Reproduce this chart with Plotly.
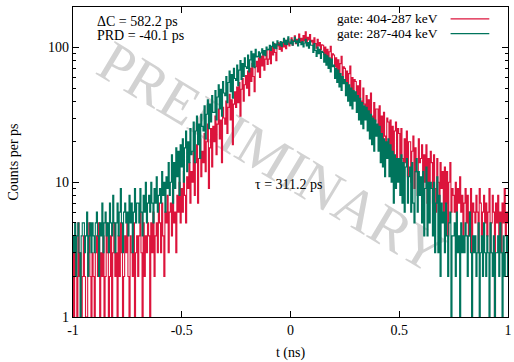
import numpy as np
import plotly.graph_objects as go

# bin centres (ns), 5 ps bins from -1 to 1
t_ns = np.round(np.arange(-1.0, 1.0001, 0.005), 3)

# gate: 404-287 keV  (counts per ps)
gate_404_287 = [
    3, 1, 4, 2, 1, 5, 2, 3, 1, 2,
    4, 2, 1, 1, 3, 5, 2, 1, 3, 2,
    1, 3, 4, 2, 5, 1, 3, 2, 4, 1,
    2, 5, 3, 1, 2, 4, 1, 3, 5, 2,
    3, 1, 4, 2, 5, 3, 1, 2, 4, 3,
    5, 2, 1, 4, 3, 2, 5, 1, 3, 4,
    2, 4, 6, 3, 1, 5, 2, 4, 3, 5,
    4, 1, 5, 3, 6, 2, 4, 5, 3, 7,
    5, 3, 7, 4, 2, 6, 5, 8, 3, 6,
    7, 4, 9, 5, 6, 3, 8, 6, 10, 5,
    9, 6, 12, 8, 5, 11, 9, 14, 7, 12,
    10, 17, 8, 14, 19, 7, 15, 21, 11, 17,
    14, 23, 12, 20, 27, 9, 18, 25, 13, 26,
    20, 31, 16, 27, 35, 21, 29, 14, 36, 30,
    27, 40, 23, 36, 45, 29, 41, 19, 38, 47,
    36, 51, 39, 55, 31, 49, 59, 40, 53, 62,
    50, 67, 44, 70, 56, 76, 61, 47, 72, 79,
    66, 84, 60, 86, 73, 92, 68, 82, 95, 75,
    82, 98, 76, 101, 88, 107, 92, 80, 103, 109,
    97, 107, 94, 110, 101, 113, 98, 106, 116, 103,
    108, 118, 104, 113, 122, 107, 115, 111, 126, 109,
    117, 108, 123, 112, 131, 106, 119, 114, 125, 110,
    113, 104, 118, 107, 99, 115, 103, 109, 96, 105,
    104, 89, 101, 83, 97, 79, 93, 102, 76, 90,
    88, 72, 84, 66, 81, 62, 76, 86, 58, 72,
    70, 55, 67, 50, 64, 73, 47, 60, 44, 58,
    56, 41, 52, 36, 57, 40, 33, 50, 38, 34,
    44, 30, 41, 26, 46, 31, 24, 39, 28, 35,
    35, 23, 37, 20, 31, 18, 33, 22, 16, 30,
    28, 17, 29, 15, 26, 13, 24, 28, 14, 25,
    23, 13, 25, 15, 10, 21, 14, 24, 11, 20,
    20, 10, 17, 22, 9, 18, 12, 8, 21, 14,
    15, 19, 8, 16, 10, 19, 7, 15, 9, 17,
    14, 7, 16, 9, 6, 15, 10, 5, 14, 9,
    12, 6, 13, 7, 12, 4, 10, 14, 6, 9,
    8, 6, 10, 5, 9, 7, 11, 6, 8, 4,
    7, 9, 5, 8, 4, 6, 9, 3, 7, 6,
    5, 8, 6, 3, 9, 7, 4, 6, 8, 5,
    7, 4, 6, 9, 3, 5, 8, 6, 1, 7,
    5, 8, 4, 6, 3, 7, 5, 9, 4, 6,
    5,
]

# gate: 287-404 keV
gate_287_404 = [
    4, 3, 5, 2, 4, 5, 3, 1, 4, 5,
    5, 3, 4, 6, 2, 4, 5, 3, 5, 4,
    3, 5, 6, 4, 2, 5, 4, 7, 3, 5,
    6, 4, 5, 3, 7, 5, 4, 8, 5, 3,
    5, 7, 4, 6, 9, 5, 3, 6, 7, 5,
    6, 4, 8, 5, 7, 3, 6, 9, 5, 7,
    7, 5, 9, 6, 4, 8, 6, 10, 5, 7,
    8, 6, 10, 7, 5, 9, 7, 11, 6, 8,
    9, 7, 12, 8, 10, 6, 11, 9, 14, 8,
    10, 16, 7, 14, 9, 18, 11, 17, 8, 19,
    13, 21, 10, 18, 24, 12, 20, 14, 25, 16,
    17, 28, 14, 24, 31, 19, 27, 15, 32, 26,
    24, 37, 21, 32, 41, 25, 38, 28, 44, 33,
    33, 48, 29, 43, 53, 35, 49, 31, 56, 46,
    44, 61, 39, 55, 67, 47, 63, 42, 70, 59,
    57, 74, 52, 68, 80, 58, 76, 61, 84, 72,
    70, 88, 66, 81, 94, 72, 90, 71, 97, 85,
    86, 93, 84, 91, 98, 88, 95, 87, 101, 96,
    97, 104, 95, 102, 110, 99, 106, 98, 112, 105,
    104, 111, 102, 109, 117, 106, 113, 105, 120, 110,
    107, 114, 104, 111, 119, 108, 112, 103, 116, 109,
    105, 111, 101, 108, 115, 103, 109, 99, 112, 104,
    104, 92, 107, 95, 86, 101, 90, 97, 83, 94,
    92, 78, 89, 74, 87, 70, 84, 66, 82, 72,
    74, 59, 70, 55, 68, 51, 64, 48, 61, 54,
    58, 44, 55, 40, 53, 37, 50, 35, 48, 40,
    47, 33, 44, 29, 42, 27, 39, 25, 37, 29,
    36, 24, 34, 21, 32, 19, 30, 17, 29, 22,
    27, 17, 26, 14, 23, 13, 21, 11, 20, 15,
    21, 11, 19, 10, 17, 7, 16, 9, 15, 10,
    15, 8, 16, 7, 14, 6, 13, 15, 7, 11,
    13, 6, 14, 7, 5, 12, 15, 6, 12, 8,
    11, 5, 12, 4, 9, 13, 4, 10, 5, 10,
    9, 4, 10, 3, 7, 11, 3, 8, 2, 7,
    5, 6, 3, 7, 4, 2, 5, 6, 1, 4,
    4, 5, 2, 6, 3, 4, 1, 5, 3, 4,
    3, 5, 4, 2, 4, 6, 3, 1, 4, 3,
    4, 2, 3, 5, 1, 3, 4, 2, 5, 3,
    2, 4, 3, 1, 5, 3, 2, 4, 1, 3,
    3, 4, 2, 5, 3, 1, 4, 2, 3, 4,
    2,
]

series_names = ["gate: 404-287 keV", "gate: 287-404 keV"]
series_colors = ["#dc143c", "#00745c"]

x_tickvals = [-1, -0.5, 0, 0.5, 1]
x_ticktext = ["-1", "-0.5", "0", "0.5", "1"]
y_tickvals = [1, 10, 100]
y_ticktext = ["1", "10", "100"]

FONT = "Liberation Serif, Times New Roman, serif"

fig = go.Figure()
for ys, name, col in zip([gate_404_287, gate_287_404], series_names, series_colors):
    fig.add_trace(go.Scatter(
        x=t_ns, y=ys, mode="lines", name=name,
        line=dict(color=col, width=1.1, shape="hvh"),
        showlegend=False,
    ))

fig.update_layout(
    width=514, height=362,
    margin=dict(l=73, r=2, t=7, b=45),
    paper_bgcolor="white", plot_bgcolor="white",
    font=dict(family=FONT, size=14, color="black"),
)

fig.update_xaxes(
    range=[-1, 1], tickvals=x_tickvals, ticktext=x_ticktext,
    ticks="inside", ticklen=6, tickwidth=1, tickcolor="black",
    showline=True, linecolor="black", linewidth=1.3, mirror="allticks",
    showgrid=False, zeroline=False, ticklabeloverflow="allow",
    title=dict(text="t (ns)", standoff=10, font=dict(size=14)),
    tickfont=dict(size=14),
)
fig.update_yaxes(
    type="log", range=[0, np.log10(200)],
    tickvals=y_tickvals, ticktext=y_ticktext,
    ticks="inside", ticklen=6, tickwidth=1, tickcolor="black",
    minor=dict(dtick="D1", ticks="inside", ticklen=3, tickcolor="black", showgrid=False),
    showline=True, linecolor="black", linewidth=1.3, mirror="allticks",
    showgrid=False, zeroline=False,
    title=dict(text="Counts per ps", standoff=26, font=dict(size=14)),
    tickfont=dict(size=14),
)

# watermark, drawn beneath the data as the label of an invisible shape
fig.add_shape(
    type="rect", xref="paper", yref="paper", x0=0.265, x1=0.665, y0=0.432, y1=0.632,
    layer="below", line=dict(width=0), fillcolor="rgba(0,0,0,0)",
    label=dict(text="PRELIMINARY", textangle=31, textposition="middle center",
               font=dict(family=FONT, size=58, color="#d2d2d2")),
)

# texts
fig.add_annotation(text="ΔC = 582.2 ps", xref="paper", yref="paper",
                   x=0.05, y=0.985, xanchor="left", yanchor="top", showarrow=False,
                   font=dict(size=14))
fig.add_annotation(text="PRD = -40.1 ps", xref="paper", yref="paper",
                   x=0.05, y=0.94, xanchor="left", yanchor="top", showarrow=False,
                   font=dict(size=14))
fig.add_annotation(text="τ = 311.2 ps", xref="paper", yref="paper",
                   x=0.413, y=0.428, xanchor="left", yanchor="middle", showarrow=False,
                   font=dict(size=14))

# gnuplot-style key (text, then sample line to the right)
for i, (name, col) in enumerate(zip(series_names, series_colors)):
    yk = 0.962 - i * 0.048
    fig.add_annotation(text=name, xref="paper", yref="paper",
                       x=0.843, y=yk, xanchor="right", yanchor="middle",
                       showarrow=False, font=dict(size=13.5))
    fig.add_shape(type="line", xref="paper", yref="paper",
                  x0=0.868, x1=0.957, y0=yk, y1=yk,
                  line=dict(color=col, width=1.2))

fig.write_html("out.html")
